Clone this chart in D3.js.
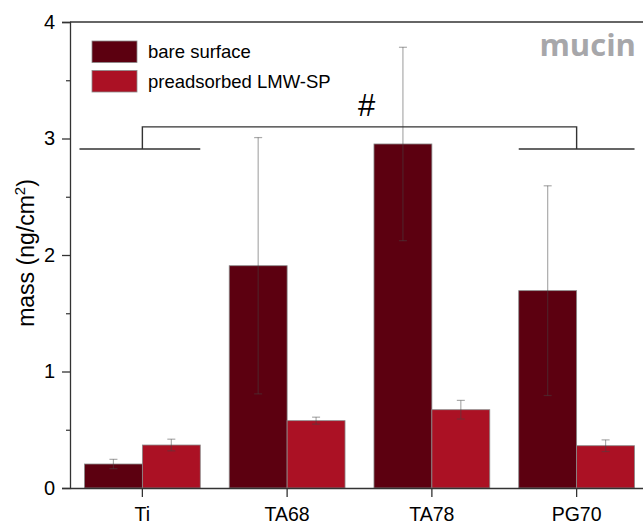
<!DOCTYPE html>
<html><head><meta charset="utf-8">
<script src="https://cdn.jsdelivr.net/npm/d3@7"></script>
<style>html,body{margin:0;padding:0;background:#fff;overflow:hidden}svg{display:block}</style>
</head><body>
<svg id="c" width="643" height="525"></svg>
<script>
const categories = ["Ti", "TA68", "TA78", "PG70"];
const seriesNames = ["bare surface", "preadsorbed LMW-SP"];
const bareValues = [0.206, 1.908, 2.953, 1.694];
const bareErrors = [0.04, 1.10, 0.83, 0.90];
const preValues = [0.369, 0.578, 0.672, 0.363];
const preErrors = [0.05, 0.03, 0.08, 0.05];
const seriesColors = ["#5c0010", "#ab1124"];
const yTicks = [0, 1, 2, 3, 4];
const yMinorTicks = [0.5, 1.5, 2.5, 3.5];
const bracketLow = 2.91, bracketHigh = 3.10;

(function () {
const svg = d3.select("#c");
const mLeft = 70, mRight = 649, mTop = 22, mBottom = 488;
const font = "'Liberation Sans', Arial, sans-serif";

const x = d3.scaleBand().domain(categories).range([mLeft, mRight]).paddingInner(0.2).paddingOuter(0.1);
const xs = d3.scaleBand().domain([0, 1]).range([0, x.bandwidth()]);
const y = d3.scaleLinear().domain([0, 4]).range([mBottom, mTop]);

const series = [
  {name: seriesNames[0], values: bareValues, errors: bareErrors, color: seriesColors[0]},
  {name: seriesNames[1], values: preValues, errors: preErrors, color: seriesColors[1]}
];

// bars
series.forEach((s, si) => {
  svg.append("g").selectAll("rect").data(categories).join("rect")
    .attr("x", (c) => x(c) + xs(si))
    .attr("y", (c, i) => y(s.values[i]))
    .attr("width", xs.bandwidth())
    .attr("height", (c, i) => y(0) - y(s.values[i]))
    .attr("fill", s.color)
    .attr("stroke", "#8a8a8a").attr("stroke-width", 0.8);
});

// error bars
series.forEach((s, si) => {
  const g = svg.append("g").attr("stroke", "#444").attr("stroke-opacity", 0.45).attr("stroke-width", 1.2);
  categories.forEach((c, i) => {
    const cx = x(c) + xs(si) + xs.bandwidth() / 2;
    const lo = y(s.values[i] - s.errors[i]), hi = y(s.values[i] + s.errors[i]);
    g.append("line").attr("x1", cx).attr("x2", cx).attr("y1", lo).attr("y2", hi);
    g.append("line").attr("x1", cx - 4).attr("x2", cx + 4).attr("y1", lo).attr("y2", lo);
    g.append("line").attr("x1", cx - 4).attr("x2", cx + 4).attr("y1", hi).attr("y2", hi);
  });
});

// axes
const yAxis = d3.axisLeft(y).tickValues(yTicks).tickSize(8).tickPadding(7).tickFormat(d3.format("d"));
const gy = svg.append("g").attr("transform", `translate(${mLeft},0)`).call(yAxis);
gy.select(".domain").attr("stroke", "#333").attr("stroke-width", 1.3);
gy.selectAll(".tick line").attr("stroke", "#333").attr("stroke-width", 1.3);
gy.selectAll("text").attr("font-family", font).attr("font-size", 20).attr("fill", "#000");
const gym = svg.append("g").attr("transform", `translate(${mLeft},0)`)
  .call(d3.axisLeft(y).tickValues(yMinorTicks).tickSize(4).tickFormat(""));
gym.select(".domain").remove();
gym.selectAll(".tick line").attr("stroke", "#333").attr("stroke-width", 1.2);

const xAxis = d3.axisBottom(x).tickSize(9).tickPadding(10).tickSizeOuter(0);
const gx = svg.append("g").attr("transform", `translate(0,${mBottom})`).call(xAxis);
gx.select(".domain").attr("stroke", "#333").attr("stroke-width", 1.3);
gx.selectAll(".tick line").attr("stroke", "#333").attr("stroke-width", 1.3);
gx.selectAll("text").attr("font-family", font).attr("font-size", 19.5).attr("fill", "#000");

// top frame
svg.append("line").attr("x1", mLeft).attr("x2", mRight).attr("y1", y(4)).attr("y2", y(4))
  .attr("stroke", "#333").attr("stroke-width", 1.3);

// y label
svg.append("text").attr("transform", `translate(34,253) rotate(-90)`)
  .attr("text-anchor", "middle").attr("font-family", font).attr("font-size", 23)
  .html('mass (ng/cm<tspan dy="-9" font-size="15">2</tspan><tspan dy="9">)</tspan>');

// bracket
const bx0 = x(categories[0]), bx1 = x(categories[0]) + x.bandwidth();
const ex0 = x(categories[3]), ex1 = x(categories[3]) + x.bandwidth();
const bcx = x(categories[0]) + x.bandwidth() / 2, ecx = x(categories[3]) + x.bandwidth() / 2;
const bp = d3.path();
bp.moveTo(bx0 - 5, y(bracketLow)); bp.lineTo(bx1, y(bracketLow));
bp.moveTo(bcx, y(bracketLow)); bp.lineTo(bcx, y(bracketHigh)); bp.lineTo(ecx, y(bracketHigh)); bp.lineTo(ecx, y(bracketLow));
bp.moveTo(ex0, y(bracketLow)); bp.lineTo(ex1, y(bracketLow));
svg.append("path").attr("d", bp.toString()).attr("fill", "none").attr("stroke", "#333").attr("stroke-width", 1.4);
svg.append("text").attr("x", (bcx + ecx) / 2 + 7).attr("y", 116).attr("text-anchor", "middle")
  .attr("font-family", font).attr("font-size", 31).text("#");

// mucin
svg.append("text").attr("x", 636).attr("y", 55.5).attr("text-anchor", "end")
  .attr("font-family", "'Open Sans', sans-serif").attr("font-weight", "bold").attr("font-size", 31)
  .attr("fill", "#a7a7aa").text("mucin");

// legend
const lg = svg.append("g");
series.forEach((s, i) => {
  lg.append("rect").attr("x", 92).attr("y", 41 + i * 29.5).attr("width", 45).attr("height", 21.5)
    .attr("fill", s.color).attr("stroke", "#8a8a8a").attr("stroke-width", 0.8);
  lg.append("text").attr("x", 148).attr("y", 58 + i * 29.5).attr("font-family", font)
    .attr("font-size", 18.5).text(s.name);
});
})();
</script>
</body></html>
